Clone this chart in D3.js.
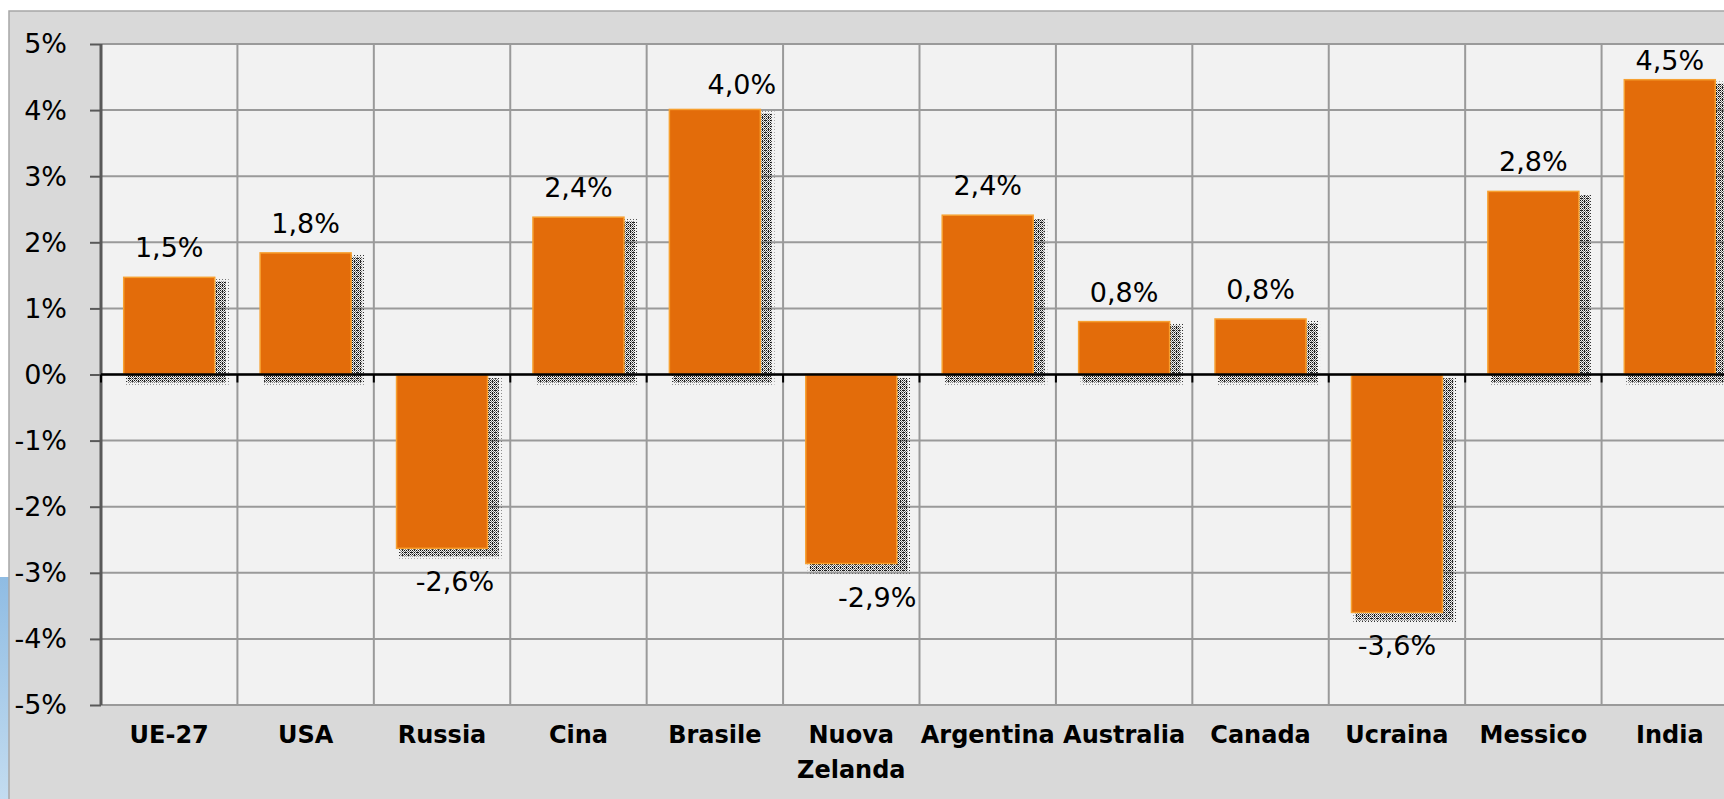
<!DOCTYPE html>
<head>
  <meta charset="utf-8">
  <script src="https://d3js.org/d3.v7.min.js"></script>
<style>
body { margin:0;position:fixed;top:0;right:0;bottom:0;left:0;background:#fff; }

.grid line {
  stroke: #9a9a9a;
  stroke-width: 2px;
}

.tick-label {
  font-family: "DejaVu Sans", sans-serif;
  font-size: 27px;
  fill: #000;
}

.cat-label {
  font-family: "DejaVu Sans", sans-serif;
  font-size: 24px;
  font-weight: bold;
  fill: #000;
}

.bar {
  fill: #e36c0a;
  stroke: #f7a030;
  stroke-width: 1.5px;
}
</style>
</head>

<body>
<script>
// data
var countries = ['UE-27', 'USA', 'Russia', 'Cina', 'Brasile', 'Nuova Zelanda',
                 'Argentina', 'Australia', 'Canada', 'Ucraina', 'Messico', 'India'];
var values = [1.47, 1.84, -2.63, 2.38, 4.01, -2.86, 2.41, 0.80, 0.84, -3.60, 2.77, 4.46];
var yTicks = [5, 4, 3, 2, 1, 0, -1, -2, -3, -4, -5];

// small hand nudges of some data labels, [dx, dy]
var labelNudge = [[0,0],[0,0],[13,0],[0,0],[27,5],[26,0],[0,0],[0,0],[0,0],[0,0],[0,0],[0,10]];

var W = 1724, H = 799;
var plot = {left: 101, top: 44, right: 1738, bottom: 705};

var svg = d3.select("body").append("svg")
    .attr("width", W)
    .attr("height", H);

// patterns for the dotted shadow
var defs = svg.append("defs");
var dense = defs.append("pattern")
    .attr("id", "dense").attr("width", 2).attr("height", 2)
    .attr("patternUnits", "userSpaceOnUse");
dense.append("rect").attr("width", 1).attr("height", 1).attr("fill", "#111");
dense.append("rect").attr("x", 1).attr("y", 1).attr("width", 1).attr("height", 1).attr("fill", "#777");
var sparse = defs.append("pattern")
    .attr("id", "sparse").attr("width", 3).attr("height", 3)
    .attr("patternUnits", "userSpaceOnUse");
sparse.append("rect").attr("width", 1).attr("height", 1).attr("fill", "#333");

// slide background peeking in at bottom left
var grad = defs.append("linearGradient").attr("id", "blue")
    .attr("x1", 0).attr("y1", 0).attr("x2", 0).attr("y2", 1);
grad.append("stop").attr("offset", "0%").attr("stop-color", "#8fbce3");
grad.append("stop").attr("offset", "100%").attr("stop-color", "#c3dcf0");
svg.append("rect")
    .attr("x", 0).attr("y", 577).attr("width", 10).attr("height", H - 577)
    .attr("fill", "url(#blue)");

// chart area
svg.append("rect")
    .attr("x", 9).attr("y", 11)
    .attr("width", W + 20).attr("height", H + 20)
    .attr("fill", "#d9d9d9")
    .attr("stroke", "#a6a6a6")
    .attr("stroke-width", 1.5);

// scales
var x = d3.scaleBand()
    .domain(countries)
    .range([plot.left, plot.right])
    .padding(0);
var barW = x.bandwidth() * 0.667;
var barOff = (x.bandwidth() - barW) / 2;

var y = d3.scaleLinear()
    .domain([-5, 5])
    .range([plot.bottom, plot.top]);

// plot area
svg.append("rect")
    .attr("x", plot.left).attr("y", plot.top)
    .attr("width", plot.right - plot.left).attr("height", plot.bottom - plot.top)
    .attr("fill", "#f2f2f2");

// gridlines
var grid = svg.append("g").attr("class", "grid");
grid.selectAll(".hg")
    .data(yTicks)
  .enter().append("line")
    .attr("x1", plot.left).attr("x2", plot.right)
    .attr("y1", d => y(d)).attr("y2", d => y(d));
grid.selectAll(".vg")
    .data(countries)
  .enter().append("line")
    .attr("x1", d => x(d) + x.bandwidth()).attr("x2", d => x(d) + x.bandwidth())
    .attr("y1", plot.top).attr("y2", plot.bottom);

// y axis
var yAxis = svg.append("g")
    .attr("transform", "translate(" + plot.left + ",0)")
    .call(d3.axisLeft(y).tickValues(yTicks).tickSize(11).tickPadding(23)
      .tickFormat(d => d + "%"));
yAxis.select(".domain")
    .attr("stroke", "#595959").attr("stroke-width", 3)
    .attr("d", "M0," + plot.top + "V" + plot.bottom);
yAxis.selectAll(".tick line").attr("stroke", "#595959").attr("stroke-width", 2);
yAxis.selectAll(".tick text")
    .attr("class", "tick-label")
    .attr("font-family", null).attr("font-size", null)
    .attr("dy", "0.33em");

// shadows
var shadows = svg.append("g");
countries.forEach((c, i) => {
  var v = values[i];
  var top = Math.min(y(v), y(0)), bot = Math.max(y(v), y(0));
  var bx = x(c) + barOff;
  shadows.append("rect")
      .attr("x", bx + 2).attr("y", top + 2)
      .attr("width", barW + 12).attr("height", bot - top + 8)
      .attr("fill", "url(#sparse)");
  shadows.append("rect")
      .attr("x", bx + 4).attr("y", top + 4)
      .attr("width", barW + 7).attr("height", bot - top + 4)
      .attr("fill", "url(#dense)");
});

// bars
svg.selectAll(".bar")
    .data(values)
  .enter().append("rect")
    .attr("class", "bar")
    .attr("x", (d, i) => x(countries[i]) + barOff)
    .attr("y", d => y(Math.max(d, 0)))
    .attr("width", barW)
    .attr("height", d => Math.abs(y(d) - y(0)));

// zero line with outside ticks
var x0 = svg.append("g")
    .attr("transform", "translate(0," + y(0) + ")");
x0.append("line")
    .attr("x1", plot.left).attr("x2", plot.right)
    .attr("stroke", "#000").attr("stroke-width", 2.5);
x0.selectAll(".zt")
    .data([countries[0]].concat(countries))
  .enter().append("line")
    .attr("x1", (d, i) => i === 0 ? x(d) : x(d) + x.bandwidth())
    .attr("x2", (d, i) => i === 0 ? x(d) : x(d) + x.bandwidth())
    .attr("y1", 0).attr("y2", 8)
    .attr("stroke", "#000").attr("stroke-width", 2);

// data labels
svg.selectAll(".val")
    .data(values)
  .enter().append("text")
    .attr("class", "tick-label")
    .attr("text-anchor", "middle")
    .attr("x", (d, i) => x(countries[i]) + x.bandwidth() / 2 + labelNudge[i][0])
    .attr("y", (d, i) => (d >= 0 ? y(d) - 20 : y(d) + 43) + labelNudge[i][1])
    .text(d => d.toFixed(1).replace(".", ",") + "%");

// category labels
var cats = svg.selectAll(".cat")
    .data(countries)
  .enter().append("text")
    .attr("class", "cat-label")
    .attr("text-anchor", "middle")
    .attr("x", d => x(d) + x.bandwidth() / 2)
    .attr("y", 743);
cats.each(function(d) {
  var words = d === 'Nuova Zelanda' ? ['Nuova', 'Zelanda'] : [d];
  var t = d3.select(this);
  words.forEach((w, k) => {
    t.append("tspan")
        .attr("x", x(d) + x.bandwidth() / 2)
        .attr("dy", k === 0 ? 0 : 35)
        .text(w);
  });
});
</script>
</body>
